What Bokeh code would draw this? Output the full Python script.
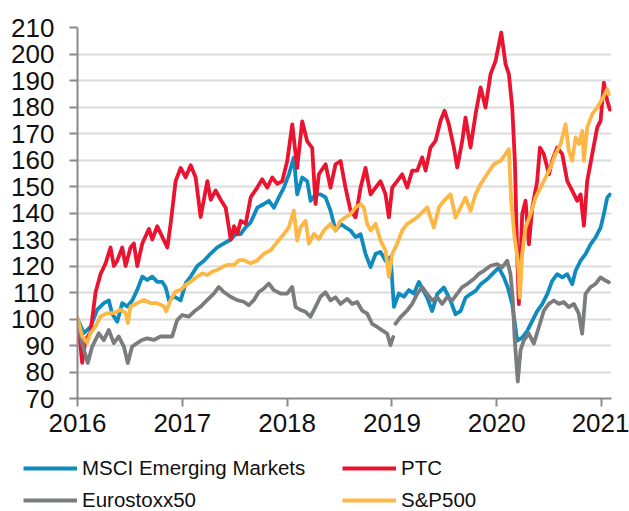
from bokeh.plotting import figure
from bokeh.models import Range1d, FixedTicker, Legend, LegendItem
from bokeh.embed import file_html
from bokeh.resources import INLINE

NAN = float("nan")

# ---- data (decimal year, index level) ----
years = [2016, 2017, 2018, 2019, 2020, 2021]
year_labels = ["2016", "2017", "2018", "2019", "2020", "2021"]
y_ticks = [70, 80, 90, 100, 110, 120, 130, 140, 150, 160, 170, 180, 190, 200, 210]
series_names = ["MSCI Emerging Markets", "PTC", "Eurostoxx50", "S&P500"]
series_colors = ["#0f8bc0", "#ea1330", "#7b7c7e", "#fdb744"]

msci = [(2016.000,100),(2016.061,94.7),(2016.124,97),(2016.188,103.5),(2016.252,106),(2016.299,107),
        (2016.331,102),(2016.379,99),(2016.427,106),(2016.475,104.7),(2016.522,107),(2016.570,111),
        (2016.618,116),(2016.666,114.7),(2016.713,116),(2016.761,114),(2016.809,114),(2016.841,112),
        (2016.873,107),(2016.920,108.5),(2016.984,107),(2017.032,113.5),(2017.080,116),(2017.143,120),
        (2017.207,122),(2017.271,124.7),(2017.334,127),(2017.398,128.5),(2017.462,130),(2017.510,132),
        (2017.557,132),(2017.605,134.7),(2017.653,136.5),(2017.715,142),(2017.778,143.4),(2017.826,144.6),
        (2017.874,142),(2017.921,145.9),(2017.969,149.6),(2018.017,154.6),(2018.064,160.9),(2018.096,147),
        (2018.144,153.4),(2018.192,152),(2018.224,144.6),(2018.271,147),(2018.319,147),(2018.367,145.9),
        (2018.414,140.9),(2018.462,133.4),(2018.510,135.9),(2018.557,134.6),(2018.605,133.4),(2018.653,130.9),
        (2018.701,132),(2018.748,124.6),(2018.796,119.6),(2018.844,124.6),(2018.891,125.3),(2018.939,122),
        (2018.987,123.4),(2019.019,104.6),(2019.066,109.6),(2019.114,108.4),(2019.162,110.9),(2019.210,109.6),
        (2019.257,114),(2019.337,108),(2019.384,103),(2019.432,109.4),(2019.496,111.9),(2019.559,106.9),
        (2019.607,101.8),(2019.655,103),(2019.702,108),(2019.750,109.4),(2019.798,110.6),(2019.846,113.1),
        (2019.909,115),(2019.957,116.9),(2020.020,119.4),(2020.068,115.7),(2020.106,111.9),(2020.148,105.6),
        (2020.195,91.8),(2020.243,93),(2020.291,95.5),(2020.339,99.3),(2020.386,103),(2020.434,105.6),
        (2020.482,109.4),(2020.529,114.4),(2020.577,116.9),(2020.625,115.7),(2020.673,116.9),(2020.720,113.1),
        (2020.752,118.2),(2020.800,122),(2020.847,124.5),(2020.895,128.2),(2020.943,130.8),(2020.991,134.5),
        (2021.022,139.6),(2021.054,145.8),(2021.080,147)]

ptc = [(2016.000,100),(2016.045,83.5),(2016.076,92),(2016.124,95),(2016.172,110),(2016.220,117),
       (2016.268,121),(2016.315,127),(2016.347,120),(2016.379,122),(2016.427,127),(2016.459,120),
       (2016.506,127),(2016.538,128.5),(2016.570,120),(2016.618,128.5),(2016.682,134),(2016.713,130),
       (2016.761,135),(2016.809,131),(2016.857,127),(2016.889,136),(2016.936,152),(2016.984,157),
       (2017.032,153.5),(2017.080,158),(2017.127,153.5),(2017.175,138.5),(2017.239,152),(2017.271,145),
       (2017.318,148.5),(2017.366,145),(2017.414,142),(2017.462,130),(2017.494,135),(2017.525,132),
       (2017.557,137),(2017.605,136),(2017.653,146),(2017.715,149.6),(2017.762,152.7),(2017.810,149.6),
       (2017.858,153.4),(2017.905,151),(2017.953,152),(2018.001,159.6),(2018.049,173.4),(2018.096,157),
       (2018.144,174.6),(2018.192,167),(2018.239,164.6),(2018.271,143.4),(2018.303,154.6),(2018.367,158.4),
       (2018.414,149.6),(2018.462,158.4),(2018.510,159.6),(2018.557,149.6),(2018.605,140.9),(2018.653,138.4),
       (2018.701,149.6),(2018.748,157),(2018.796,147),(2018.844,149.6),(2018.891,152),(2018.939,147),
       (2018.971,138.4),(2019.003,149.6),(2019.050,152),(2019.098,154.6),(2019.146,149.6),(2019.194,156),
       (2019.241,156),(2019.289,161),(2019.321,156),(2019.368,164.7),(2019.416,167.2),(2019.464,174.8),
       (2019.502,178.6),(2019.543,173.5),(2019.591,164.7),(2019.623,157.2),(2019.671,167.2),(2019.702,176),
       (2019.750,164.7),(2019.798,177.3),(2019.846,187.4),(2019.893,179.8),(2019.941,192.4),(2019.989,197.4),
       (2020.043,208.1),(2020.084,196.2),(2020.116,192.4),(2020.148,179.8),(2020.173,159.7),(2020.195,124.5),
       (2020.211,105.6),(2020.243,139.6),(2020.275,144.6),(2020.307,128.2),(2020.339,142),(2020.386,152),
       (2020.412,164.7),(2020.450,162.2),(2020.498,154.6),(2020.529,159.7),(2020.577,164.7),(2020.625,162.2),
       (2020.673,152),(2020.720,148.4),(2020.768,144.6),(2020.800,147),(2020.832,135.2),(2020.863,152),
       (2020.911,162.2),(2020.959,172.3),(2020.991,174.8),(2021.022,189.2),(2021.054,182.3),(2021.080,179)]

eurostoxx = [(2016.000,100),(2016.044,90.9),(2016.098,83.4),(2016.140,89.6),(2016.203,94.6),(2016.251,92),
             (2016.299,95.9),(2016.346,90.9),(2016.394,93.4),(2016.442,89.6),(2016.480,83.4),(2016.521,89.6),
             (2016.569,90.9),(2016.617,92.1),(2016.664,92.7),(2016.728,92.1),(2016.792,93.4),(2016.855,93.4),
             (2016.903,93.4),(2016.951,99.6),(2016.999,101.5),(2017.062,100.9),(2017.110,102.7),(2017.173,104.6),
             (2017.237,107.1),(2017.301,109.6),(2017.348,112.1),(2017.396,110.2),(2017.460,108.4),(2017.523,107.1),
             (2017.587,106.5),(2017.634,105.2),(2017.682,107.1),(2017.730,110.2),(2017.778,111.5),(2017.825,113.4),
             (2017.873,110.9),(2017.937,109.6),(2018.000,109.6),(2018.048,112.1),(2018.080,104.6),(2018.128,103.4),
             (2018.175,102.7),(2018.223,100.9),(2018.271,104.6),(2018.318,108.4),(2018.366,110.1),(2018.414,107),
             (2018.462,108.2),(2018.509,105.7),(2018.573,107.6),(2018.621,105.7),(2018.668,106.4),(2018.716,103.2),
             (2018.764,102),(2018.811,98.2),(2018.859,97),(2018.907,95.7),(2018.955,94.5),(2018.986,90.1),
             (2019.012,93.2),(2019.023,NAN),(2019.034,98.2),(2019.082,100.7),(2019.145,103.2),(2019.193,105.7),
             (2019.241,109.5),(2019.289,112),(2019.336,109.5),(2019.384,107),(2019.432,108.2),(2019.479,105.7),
             (2019.527,108.2),(2019.575,107),(2019.622,109.5),(2019.670,112),(2019.718,113.2),(2019.781,115.1),
             (2019.829,117),(2019.877,118.2),(2019.941,120.1),(2020.004,120.7),(2020.052,119.5),(2020.100,122),
             (2020.131,117),(2020.154,107),(2020.170,93.2),(2020.201,76.4),(2020.227,88.2),(2020.259,92),
             (2020.306,94.5),(2020.354,90.7),(2020.402,97),(2020.450,103.2),(2020.497,105.7),(2020.545,107),
             (2020.593,105.7),(2020.640,106.4),(2020.688,104.5),(2020.736,105.7),(2020.783,102),(2020.815,94.5),
             (2020.847,109.5),(2020.895,112),(2020.942,113.2),(2020.990,115.7),(2021.038,114.5),(2021.070,113.9)]

sp500 = [(2016.000,100.4),(2016.045,93.5),(2016.092,91),(2016.124,94.7),(2016.172,97.2),(2016.220,101),
         (2016.283,102.2),(2016.347,102.2),(2016.411,103.5),(2016.459,102.2),(2016.481,98.5),(2016.506,104.7),
         (2016.570,106),(2016.634,107.2),(2016.697,106),(2016.761,106),(2016.825,104.7),(2016.847,102.9),
         (2016.889,107.2),(2016.936,110.4),(2016.984,111),(2017.032,112.9),(2017.080,114.1),(2017.143,116),
         (2017.191,117.2),(2017.239,116.6),(2017.287,117.9),(2017.334,118.5),(2017.382,119.7),(2017.430,120.4),
         (2017.494,120.4),(2017.541,122.2),(2017.589,122.2),(2017.653,121),(2017.715,122.1),(2017.778,124.6),
         (2017.842,125.9),(2017.905,129),(2017.969,132.1),(2018.017,134.6),(2018.064,140.9),(2018.096,129.6),
         (2018.128,134.6),(2018.176,137.1),(2018.208,128.4),(2018.255,132.1),(2018.303,130.2),(2018.351,133.4),
         (2018.414,135.9),(2018.462,133.4),(2018.510,137.1),(2018.557,138.4),(2018.605,139.6),(2018.653,142.1),
         (2018.701,143.4),(2018.732,142.1),(2018.764,135.9),(2018.796,133.4),(2018.844,135.9),(2018.891,129.6),
         (2018.939,125.9),(2018.971,115.9),(2019.003,124.6),(2019.050,128.4),(2019.098,133.4),(2019.146,135.9),
         (2019.194,137.1),(2019.241,138.4),(2019.337,142.1),(2019.400,134.5),(2019.448,142.1),(2019.496,144.6),
         (2019.559,147.1),(2019.607,138.3),(2019.655,142.1),(2019.702,145.8),(2019.750,140.8),(2019.798,147.1),
         (2019.846,150.9),(2019.909,154.7),(2019.973,158.4),(2020.036,159.7),(2020.084,162.2),(2020.116,164.1),
         (2020.138,144.6),(2020.170,130.8),(2020.202,122),(2020.221,108.1),(2020.243,124.5),(2020.275,134.5),
         (2020.323,139.6),(2020.370,145.8),(2020.418,149.6),(2020.466,153.4),(2020.513,157.2),(2020.561,162.2),
         (2020.609,166),(2020.657,173.5),(2020.688,163.5),(2020.720,159.7),(2020.752,168.5),(2020.784,166),
         (2020.816,171),(2020.832,159.7),(2020.863,172.3),(2020.911,177.3),(2020.959,179.8),(2021.007,183),
         (2021.054,186.7),(2021.070,184.8)]

all_series = [msci, ptc, eurostoxx, sp500]

FONT = "Liberation Sans"
W = 629

# ---------------- main chart ----------------
p = figure(width=W, height=450, output_backend="svg", toolbar_location=None,
           x_range=Range1d(2016, 2021.095), y_range=Range1d(70, 210),
           min_border_left=77, min_border_right=18, min_border_top=27, min_border_bottom=52)
p.outline_line_color = None
p.background_fill_color = "white"
p.border_fill_color = "white"

for data, color in zip(all_series, series_colors):
    xs = [d[0] for d in data]
    ys = [d[1] for d in data]
    p.line(xs, ys, line_color=color, line_width=3.8, line_join="round", line_cap="round")

p.xaxis.ticker = FixedTicker(ticks=years)
p.xaxis.major_label_overrides = {y: lab for y, lab in zip(years, year_labels)}
p.yaxis.ticker = FixedTicker(ticks=y_ticks)
for ax in (p.xaxis, p.yaxis):
    ax.axis_line_color = "#8a8a8a"
    ax.axis_line_width = 2
    ax.major_tick_line_color = "#8a8a8a"
    ax.major_tick_line_width = 2
    ax.major_tick_out = 8
    ax.major_tick_in = 0
    ax.minor_tick_line_color = None
    ax.major_label_text_font = FONT
    ax.major_label_text_font_size = "26px"
    ax.major_label_text_color = "#111111"
p.yaxis.major_label_standoff = 15
p.xaxis.major_label_standoff = 7

p.xgrid.grid_line_color = None
p.ygrid.grid_line_color = "#dcdcdc"
p.ygrid.grid_line_width = 2

# ---------------- legend strip (separate root, frame spans full width) ----------------
lg = figure(width=W, height=61, output_backend="svg", toolbar_location=None,
            x_range=Range1d(2016, 2021.095), y_range=Range1d(70, 210),
            x_axis_location=None, y_axis_location=None,
            min_border_left=0, min_border_right=0, min_border_top=0, min_border_bottom=0)
lg.outline_line_color = None
lg.grid.visible = False
lg.background_fill_color = "white"
lg.border_fill_color = "white"

leg_renderers = []
for data, color in zip(all_series, series_colors):
    xs = [d[0] for d in data]
    ys = [d[1] for d in data]
    leg_renderers.append(lg.line(xs, ys, line_color=color, line_width=3.8, visible=False))

common = dict(glyph_width=54, glyph_height=20, label_height=20,
              label_standoff=5, spacing=8, padding=0, margin=0,
              border_line_color=None, background_fill_alpha=0,
              label_text_font=FONT, label_text_font_size="20.5px", label_text_color="#111111")
leg_a = Legend(items=[LegendItem(label=series_names[0], renderers=[leg_renderers[0]]),
                      LegendItem(label=series_names[2], renderers=[leg_renderers[2]])],
               location=(23, -1), **common)
leg_b = Legend(items=[LegendItem(label=series_names[1], renderers=[leg_renderers[1]]),
                      LegendItem(label=series_names[3], renderers=[leg_renderers[3]])],
               location=(342, -1), **common)
lg.add_layout(leg_a, "center")
lg.add_layout(leg_b, "center")

open("out.html", "w").write(file_html([p, lg], INLINE))
